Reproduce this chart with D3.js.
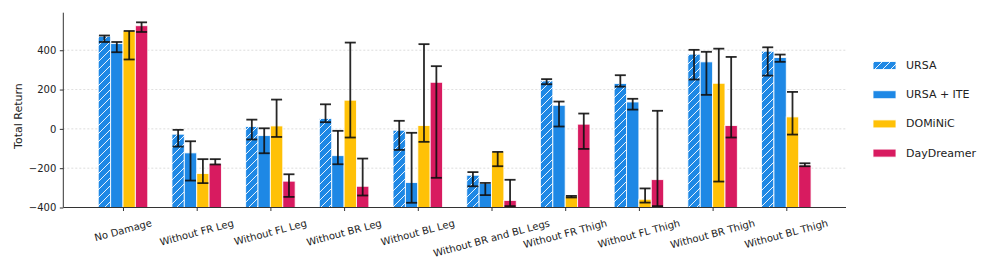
<!DOCTYPE html>
<html>
<head>
<meta charset="utf-8">
<script src="https://cdn.jsdelivr.net/npm/d3@7"></script>
<style>
  body { margin: 0; background: #fff; }
  svg { display: block; font-family: "DejaVu Sans", sans-serif; }
</style>
</head>
<body>
<svg id="chart" width="997" height="266"></svg>
<script>
const categories = ["No Damage", "Without FR Leg", "Without FL Leg", "Without BR Leg", "Without BL Leg",
  "Without BR and BL Legs", "Without FR Thigh", "Without FL Thigh", "Without BR Thigh", "Without BL Thigh"];
const seriesNames = ["URSA", "URSA + ITE", "DOMiNiC", "DayDreamer"];
const seriesColors = ["#1E88E5", "#1E88E5", "#FFC107", "#D81B60"];

const ursaMean  = [471, -27, 12, 53, -7, -236, 244, 231, 380, 395];
const ursaLow   = [442, -90, -54, 34, -107, -292, 227, 215, 251, 271];
const ursaHigh  = [475, -5, 47, 125, 41, -220, 253, 273, 402, 415];

const iteMean   = [434, -122, -34, -136, -273, -278, 120, 137, 341, 363];
const iteLow    = [390, -263, -124, -180, -376, -337, 12, 98, 173, 341];
const iteHigh   = [442, -63, 3, -10, -20, -275, 139, 153, 392, 378];

const domMean   = [498, -227, 15, 146, 17, -117, -342, -358, 232, 61];
const domLow    = [353, -276, -41, -44, -66, -190, -349, -375, -268, -29];
const domHigh   = [498, -154, 149, 439, 431, -117, -341, -303, 408, 188];

const ddMean    = [525, -178, -266, -292, 237, -364, 24, -258, 17, -185];
const ddLow     = [493, -181, -346, -339, -249, -393, -102, -393, -44, -190];
const ddHigh    = [542, -154, -231, -151, 319, -259, 78, 92, 366, -175];

const yTicks = [-400, -200, 0, 200, 400];

const series = [
  {name: seriesNames[0], mean: ursaMean, low: ursaLow, high: ursaHigh, color: seriesColors[0], hatch: true},
  {name: seriesNames[1], mean: iteMean, low: iteLow, high: iteHigh, color: seriesColors[1], hatch: false},
  {name: seriesNames[2], mean: domMean, low: domLow, high: domHigh, color: seriesColors[2], hatch: false},
  {name: seriesNames[3], mean: ddMean, low: ddLow, high: ddHigh, color: seriesColors[3], hatch: false}
];

const svg = d3.select("#chart");
const pLeft = 63.3, pRight = 846, pTop = 12.7, pBottom = 207.5;
const x = d3.scaleLinear().domain([-0.81, categories.length - 1 + 0.81]).range([pLeft, pRight]);
const y = d3.scaleLinear().domain([-400, 591]).range([pBottom, pTop]);
const slot = 0.168;

// hatch pattern
const defs = svg.append("defs");
const pat = defs.append("pattern").attr("id", "hatch").attr("patternUnits", "userSpaceOnUse")
  .attr("width", 8).attr("height", 8);
pat.append("rect").attr("width", 8).attr("height", 8).attr("fill", seriesColors[0]);
pat.append("path").attr("d", "M-2,10 L10,-2 M-2,2 L2,-2 M6,10 L10,6")
  .attr("stroke", "#fff").attr("stroke-width", 1).attr("stroke-opacity", 0.9).attr("fill", "none");

// grid
svg.append("g").selectAll("line").data(yTicks.filter(t => t > -400)).join("line")
  .attr("x1", pLeft).attr("x2", pRight).attr("y1", d => y(d)).attr("y2", d => y(d))
  .attr("stroke", "#b0b0b0").attr("stroke-width", 0.6).attr("stroke-dasharray", "2,2").attr("opacity", 0.7);

// bars
series.forEach((s, j) => {
  const off = (j - 1.5) * slot;
  const g = svg.append("g");
  g.selectAll("rect").data(categories).join("rect")
    .attr("x", (d, i) => x(i + off - slot / 2))
    .attr("width", x(slot) - x(0))
    .attr("y", (d, i) => y(s.mean[i]))
    .attr("height", (d, i) => y(-400) - y(s.mean[i]))
    .attr("fill", s.hatch ? "url(#hatch)" : s.color)
    .attr("stroke", "#fff").attr("stroke-opacity", 0.85).attr("stroke-width", 1);
});

// error bars
series.forEach((s, j) => {
  const off = (j - 1.5) * slot;
  const g = svg.append("g").attr("stroke", "#111").attr("fill", "none");
  categories.forEach((c, i) => {
    const cx = x(i + off);
    g.append("line").attr("x1", cx).attr("x2", cx).attr("y1", y(s.low[i])).attr("y2", y(s.high[i]))
      .attr("stroke-width", 1.8).attr("stroke-opacity", 0.9);
    [s.low[i], s.high[i]].forEach(v => {
      g.append("line").attr("x1", cx - 5.5).attr("x2", cx + 5.5).attr("y1", y(v)).attr("y2", y(v))
        .attr("stroke-width", 1.8).attr("stroke-opacity", 0.9);
    });
  });
});

// axes
const yAxis = svg.append("g").attr("transform", `translate(${pLeft},0)`)
  .call(d3.axisLeft(y).tickValues(yTicks).tickSize(3.5).tickPadding(3.5).tickFormat(d => d < 0 ? "\u2212" + Math.abs(d) : d));
yAxis.select(".domain").attr("stroke", "#333").attr("stroke-width", 1).attr("d", `M0,${pTop}V${pBottom}`);
yAxis.selectAll(".tick line").attr("stroke", "#333");
yAxis.selectAll(".tick text").attr("font-size", 10).attr("fill", "#222").attr("font-family", "DejaVu Sans");

const xAxis = svg.append("g").attr("transform", `translate(0,${pBottom})`)
  .call(d3.axisBottom(x).tickValues(d3.range(categories.length)).tickSize(3.5).tickFormat(""));
xAxis.select(".domain").attr("stroke", "#333").attr("stroke-width", 1).attr("d", `M${pLeft},0H${pRight}`);
xAxis.selectAll(".tick line").attr("stroke", "#333");

// rotated x labels (center aligned, top aligned bbox)
const ang = 15 * Math.PI / 180;
const lblTop = pBottom + 3.5 + 6;
const fs = 10;
categories.forEach((c, i) => {
  const t = svg.append("text").text(c).attr("font-size", fs).attr("fill", "#222")
    .attr("text-anchor", "middle").attr("dominant-baseline", "central");
  const w = t.node().getComputedTextLength();
  const H = w * Math.sin(ang) + fs * 1.17 * Math.cos(ang);
  t.attr("transform", `translate(${x(i)},${lblTop + H / 2}) rotate(-15)`);
});

// y label
svg.append("text").text("Total Return").attr("font-size", 11).attr("fill", "#222")
  .attr("text-anchor", "middle").attr("transform", `translate(22,${(pTop + pBottom) / 2 + 6}) rotate(-90)`);

// legend
const lg = svg.append("g");
series.forEach((s, j) => {
  const yy = 65.5 + j * 29.2;
  lg.append("rect").attr("x", 873).attr("y", yy - 4).attr("width", 23).attr("height", 8)
    .attr("fill", s.hatch ? "url(#hatch)" : s.color).attr("stroke", "#fff").attr("stroke-opacity", 0.85).attr("stroke-width", 1);
  lg.append("text").attr("x", 906).attr("y", yy).attr("dominant-baseline", "central")
    .attr("font-size", 11).attr("fill", "#222").text(s.name);
});
</script>
</body>
</html>
